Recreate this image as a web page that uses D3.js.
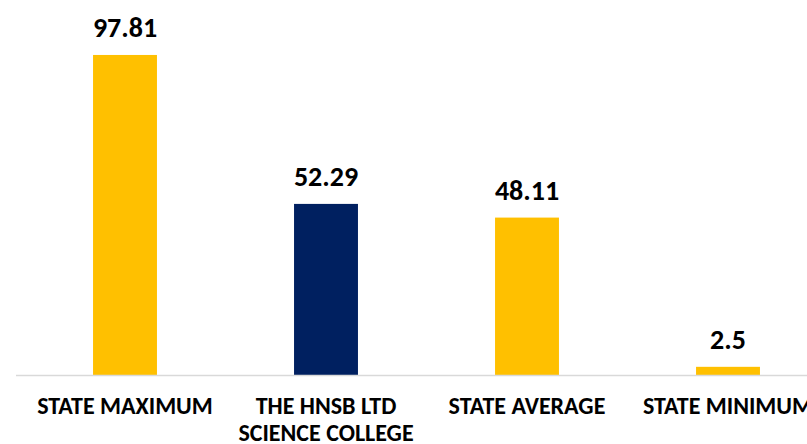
<!DOCTYPE html>
<html>
<head>
<meta charset="utf-8">
<script src="https://cdn.jsdelivr.net/npm/d3@7"></script>
<style>
  html, body { margin: 0; padding: 0; background: #fff; }
  svg text { font-family: Carlito, "Liberation Sans Narrow", "DejaVu Sans Condensed", "Open Sans", sans-serif; font-weight: bold; fill: #000; }
</style>
</head>
<body>
<svg width="807" height="444"></svg>
<script>
const categories = ["STATE MAXIMUM", "THE HNSB LTD SCIENCE COLLEGE", "STATE AVERAGE", "STATE MINIMUM"];
const labelLines = [["STATE MAXIMUM"], ["THE HNSB LTD", "SCIENCE COLLEGE"], ["STATE AVERAGE"], ["STATE MINIMUM"]];
const values = [97.81, 52.29, 48.11, 2.5];
const barColors = ["#ffc000", "#002060", "#ffc000", "#ffc000"];

const svg = d3.select("svg");

const x = d3.scaleBand()
    .domain(categories)
    .range([24.5, 828.5])
    .paddingInner(0.682)
    .paddingOuter(0.341);

const y = d3.scaleLinear()
    .domain([0, 100])
    .range([375, 47.8]);

// bars
svg.selectAll(".bar")
    .data(values)
    .enter().append("rect")
    .attr("class", "bar")
    .attr("x", (d, i) => x(categories[i]))
    .attr("y", d => y(d))
    .attr("width", x.bandwidth())
    .attr("height", d => y(0) - y(d))
    .attr("fill", (d, i) => barColors[i]);

// baseline
svg.append("line")
    .attr("x1", 16)
    .attr("x2", 807)
    .attr("y1", y(0) + 0.5)
    .attr("y2", y(0) + 0.5)
    .attr("stroke", "#d9d9d9")
    .attr("stroke-width", 1.5);

// value labels
svg.selectAll(".value")
    .data(values)
    .enter().append("text")
    .attr("class", "value")
    .attr("x", (d, i) => x(categories[i]) + x.bandwidth() / 2)
    .attr("y", d => y(d) - 18)
    .attr("text-anchor", "middle")
    .attr("font-size", "28px")
    .text(d => d);

// category labels
const cat = svg.selectAll(".cat")
    .data(labelLines)
    .enter().append("text")
    .attr("class", "cat")
    .attr("text-anchor", "middle")
    .attr("font-size", "24px")
    .attr("x", (d, i) => x(categories[i]) + x.bandwidth() / 2)
    .attr("y", 414);

cat.selectAll("tspan")
    .data((d, i) => d.map(t => ({ t, i })))
    .enter().append("tspan")
    .attr("x", d => x(categories[d.i]) + x.bandwidth() / 2)
    .attr("dy", (d, j) => j === 0 ? 0 : 26.5)
    .text(d => d.t);
</script>
</body>
</html>
